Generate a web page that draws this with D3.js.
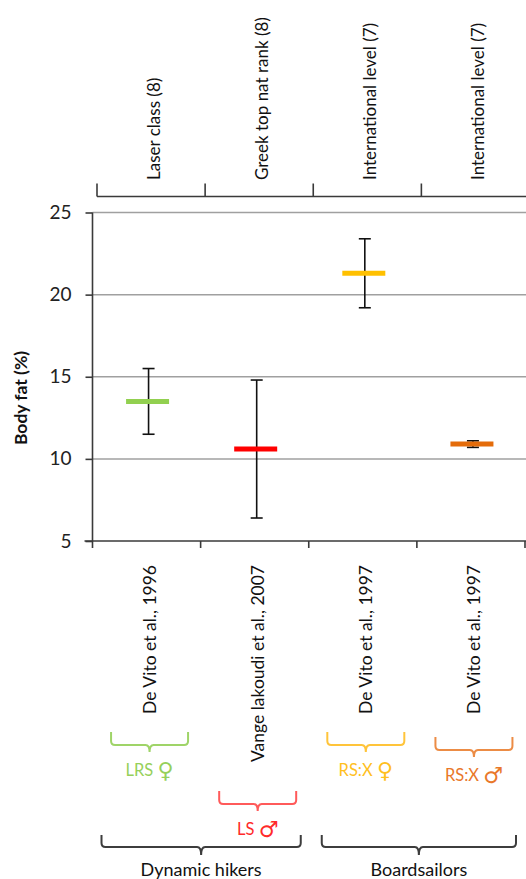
<!DOCTYPE html>
<html>
<head>
<meta charset="utf-8">
<script src="https://cdn.jsdelivr.net/npm/d3@7"></script>
<style>
  html, body { margin: 0; padding: 0; background: #fff; }
  svg { display: block; }
  text { font-family: Lato, "Open Sans", sans-serif; }
</style>
</head>
<body>
<svg id="chart" width="526" height="879"></svg>
<script>
// Studies (one column each)
const studies = ["De Vito et al., 1996", "Vange lakoudi et al., 2007", "De Vito et al., 1997", "De Vito et al., 1997 "];
const levels = ["Laser class (8)", "Greek top nat rank (8)", "International level (7)", "International level (7) "];
// Mean body fat (%) and standard deviation
const means = [13.5, 10.6, 21.3, 10.9];
const sds = [2.0, 4.2, 2.1, 0.2];
const classes = ["LRS", "LS", "RS:X", "RS:X"];
const sexes = ["\u2640", "\u2642", "\u2640", "\u2642"];
const groups = ["Dynamic hikers", "Boardsailors"];
const groupMembers = [[0, 1], [2, 3]];
const yTicks = [5, 10, 15, 20, 25];

const markColors = ["#92d050", "#ff0000", "#ffc000", "#e46c0a"];
const bracketColors = ["#9fd468", "#ff5a5a", "#ffc43a", "#ec8c45"];
const textColors = ["#96d05a", "#ff2a2a", "#ffbf1f", "#e9782a"];

const svg = d3.select("#chart");

const plotL = 92.5, plotR = 525, plotT = 212.5, plotB = 541;
const x = d3.scaleBand().domain(studies).range([plotL, plotR]);
const xTop = d3.scaleBand().domain(levels).range([97, 97 + (plotR - plotL)]);
const y = d3.scaleLinear().domain([5, 25]).range([plotB, plotT]);

// Horizontal gridlines
svg.append("g").selectAll("line")
  .data(yTicks.filter(t => t > 5))
  .join("line")
  .attr("x1", plotL).attr("x2", 526)
  .attr("y1", d => y(d)).attr("y2", d => y(d))
  .attr("stroke", "#a0a0a0").attr("stroke-width", 1.5);

// Y axis
const yAxis = svg.append("g")
  .attr("transform", `translate(${plotL},0)`)
  .call(d3.axisLeft(y).tickValues(yTicks).tickSize(7).tickPadding(14));
yAxis.select(".domain").attr("d", `M0,${plotT}V${plotB + 7}`).attr("stroke", "#3a3a3a").attr("stroke-width", 1.6);
yAxis.selectAll(".tick line").attr("stroke", "#3a3a3a").attr("stroke-width", 1.6);
yAxis.selectAll(".tick text").attr("font-size", 19).attr("fill", "#222").attr("font-family", "Lato");

// Y axis title
svg.append("text")
  .attr("transform", `translate(20,398) rotate(-90)`)
  .attr("text-anchor", "middle").attr("dominant-baseline", "central")
  .attr("font-size", 17.5).attr("font-weight", "bold").attr("fill", "#111")
  .text("Body fat (%)");

// Bottom category axis
const xAxis = svg.append("g")
  .attr("transform", `translate(0,${plotB})`)
  .call(d3.axisBottom(x).tickSize(0).tickFormat(""));
xAxis.select(".domain").remove();
xAxis.append("line").attr("x1", plotL - 8).attr("x2", 526).attr("stroke", "#3a3a3a").attr("stroke-width", 1.6);
const bEdges = studies.map(s => x(s)).concat([plotR]);
xAxis.selectAll("line.edge").data(bEdges.slice(1)).join("line")
  .attr("class", "edge")
  .attr("x1", d => d).attr("x2", d => d).attr("y1", 0).attr("y2", 7)
  .attr("stroke", "#3a3a3a").attr("stroke-width", 1.6);

// Study labels (rotated)
svg.append("g").selectAll("text")
  .data(studies)
  .join("text")
  .attr("transform", d => `translate(${x(d) + x.bandwidth() / 2 + 3},565) rotate(-90)`)
  .attr("text-anchor", "end").attr("dominant-baseline", "central")
  .attr("font-size", 17.5).attr("fill", "#111")
  .text(d => d.trim());

// Top axis with level labels
const topY = 196.5;
const tg = svg.append("g");
tg.append("line").attr("x1", 97).attr("x2", 526).attr("y1", topY).attr("y2", topY)
  .attr("stroke", "#3a3a3a").attr("stroke-width", 1.6);
tg.selectAll("line.edge").data(levels).join("line")
  .attr("class", "edge")
  .attr("x1", d => xTop(d)).attr("x2", d => xTop(d))
  .attr("y1", topY - 13).attr("y2", topY)
  .attr("stroke", "#3a3a3a").attr("stroke-width", 1.6);
tg.selectAll("text").data(levels).join("text")
  .attr("transform", d => `translate(${xTop(d) + xTop.bandwidth() / 2 + 2},180) rotate(-90)`)
  .attr("text-anchor", "start").attr("dominant-baseline", "central")
  .attr("font-size", 17).attr("fill", "#111")
  .text(d => d.trim());

// Error bars
const capW = 6;
const eb = svg.append("g").attr("stroke", "#111").attr("stroke-width", 1.6);
studies.forEach((s, i) => {
  const cx = x(s) + x.bandwidth() / 2 + 2;
  const y0 = y(means[i] - sds[i]), y1 = y(means[i] + sds[i]);
  eb.append("line").attr("x1", cx).attr("x2", cx).attr("y1", y0).attr("y2", y1);
  eb.append("line").attr("x1", cx - capW).attr("x2", cx + capW).attr("y1", y0).attr("y2", y0);
  eb.append("line").attr("x1", cx - capW).attr("x2", cx + capW).attr("y1", y1).attr("y2", y1);
});

// Mean markers
svg.append("g").selectAll("line")
  .data(means)
  .join("line")
  .attr("x1", (d, i) => x(studies[i]) + x.bandwidth() / 2 + 1 - 21.5)
  .attr("x2", (d, i) => x(studies[i]) + x.bandwidth() / 2 + 1 + 21.5)
  .attr("y1", d => y(d)).attr("y2", d => y(d))
  .attr("stroke", (d, i) => markColors[i]).attr("stroke-width", 5);

// Brace shape: ends turn up, tip points down at the centre
function brace(x0, x1, yTop, yBar, yTip, r) {
  const xc = (x0 + x1) / 2;
  return `M${x0},${yTop}V${yBar - r}Q${x0},${yBar} ${x0 + r},${yBar}` +
    `H${xc - r}Q${xc},${yBar} ${xc},${yTip}Q${xc},${yBar} ${xc + r},${yBar}` +
    `H${x1 - r}Q${x1},${yBar} ${x1},${yBar - r}V${yTop}`;
}

// Boat-class braces under each study
const braceTop = [732, 791, 732, 737];
const bg = svg.append("g").attr("fill", "none").attr("stroke-width", 2);
studies.forEach((s, i) => {
  const cx = x(s) + x.bandwidth() / 2 + 3;
  const yt = braceTop[i];
  bg.append("path")
    .attr("d", brace(cx - 38.5, cx + 38.5, yt, yt + 13, yt + 20, 4))
    .attr("stroke", bracketColors[i]);
  const t = svg.append("text")
    .attr("x", cx).attr("y", yt + 38)
    .attr("text-anchor", "middle").attr("dominant-baseline", "central")
    .attr("font-size", 16.5).attr("fill", textColors[i]);
  t.append("tspan").text(classes[i] + " ");
  t.append("tspan").attr("font-family", "DejaVu Sans").attr("font-size", 22).text(sexes[i]);
});

// Group braces
groups.forEach((g, gi) => {
  const m = groupMembers[gi];
  const x0 = x(studies[m[0]]) + (gi === 0 ? 9 : 13);
  const x1 = x(studies[m[m.length - 1]]) + x.bandwidth() - (gi === 0 ? 8 : 9);
  bg.append("path")
    .attr("d", brace(x0, x1, 835, 847, 855, 4))
    .attr("stroke", "#3d3d3d");
  svg.append("text")
    .attr("x", (x0 + x1) / 2).attr("y", 869)
    .attr("text-anchor", "middle").attr("dominant-baseline", "central")
    .attr("font-size", 18).attr("fill", "#111")
    .text(g);
});
</script>
</body>
</html>
